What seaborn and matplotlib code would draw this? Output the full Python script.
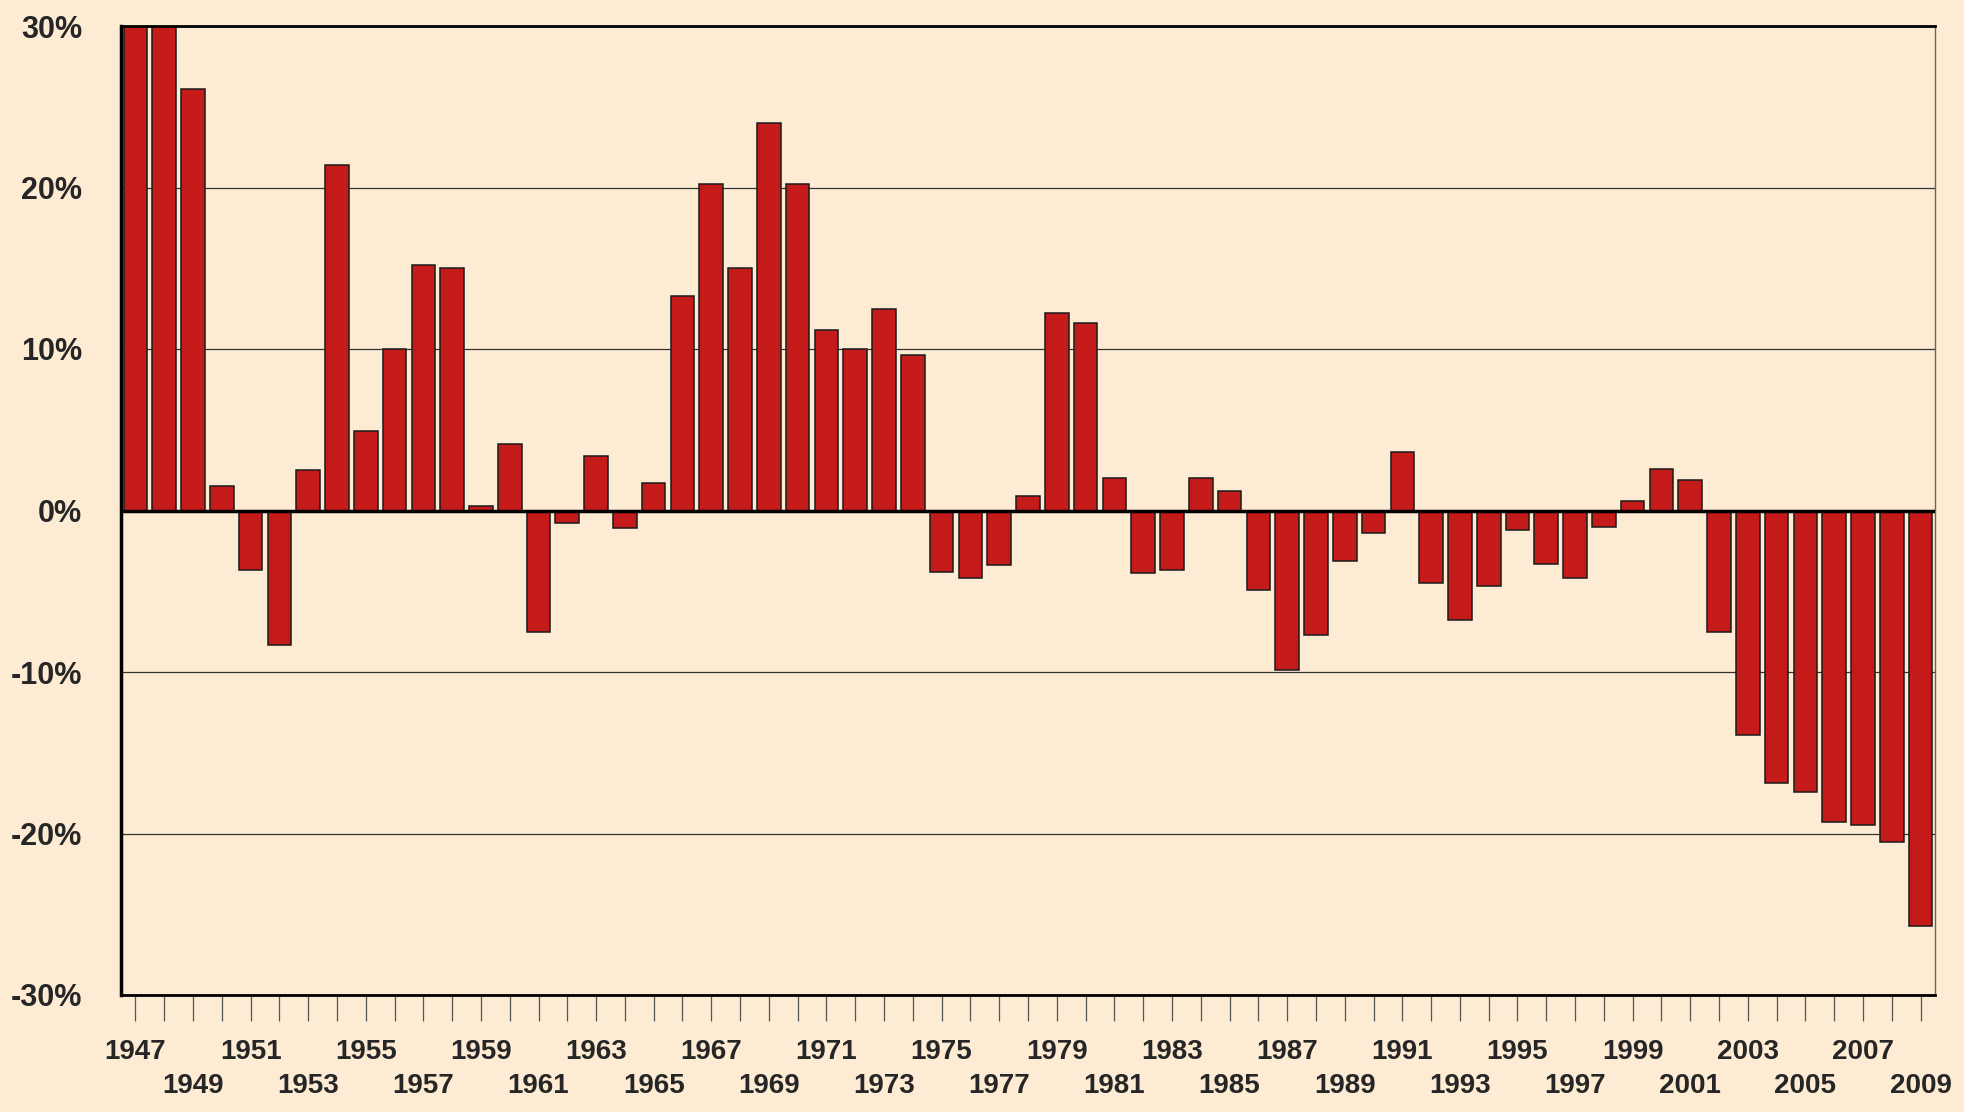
import matplotlib
matplotlib.use("Agg")
import matplotlib.pyplot as plt
import seaborn as sns

# annual change, 1947-2009 (%)
years = list(range(1947, 2010))
changes = [
    32.0, 31.0, 26.1, 1.5, -3.7, -8.3, 2.5, 21.4, 4.9, 10.0,
    15.2, 15.0, 0.3, 4.1, -7.5, -0.8, 3.4, -1.1, 1.7, 13.3,
    20.2, 15.0, 24.0, 20.2, 11.2, 10.0, 12.5, 9.6, -3.8, -4.2,
    -3.4, 0.9, 12.2, 11.6, 2.0, -3.9, -3.7, 2.0, 1.2, -4.9,
    -9.9, -7.7, -3.1, -1.4, 3.6, -4.5, -6.8, -4.7, -1.2, -3.3,
    -4.2, -1.0, 0.6, 2.6, 1.9, -7.5, -13.9, -16.9, -17.4, -19.3,
    -19.5, -20.5, -25.7,
]
y_ticks = [-30, -20, -10, 0, 10, 20, 30]

bg = "#FEEBD3"
bar_red = "#C41A1A"

sns.set_theme(style="white")
plt.rcParams["font.family"] = ["Liberation Sans", "DejaVu Sans"]
plt.rcParams["font.weight"] = "bold"

fig, ax = plt.subplots(figsize=(19.65, 11.12), dpi=100)
fig.patch.set_facecolor(bg)
ax.set_facecolor(bg)
fig.subplots_adjust(left=121 / 1965, right=1935 / 1965, top=1 - 26 / 1112, bottom=1 - 995 / 1112)

labels = [str(y) for y in years]
sns.barplot(x=labels, y=changes, color=bar_red, edgecolor="#1a1a1a", linewidth=1.1,
            width=0.82, saturation=1, ax=ax, zorder=2)

ax.set_xlim(-0.5, len(years) - 0.5)
ax.set_ylim(-30, 30)
ax.set_yticks(y_ticks)
ax.set_yticklabels([f"{v}%" for v in y_ticks], fontsize=22, fontweight="bold")
ax.tick_params(axis="y", length=0, pad=28)

# odd years only, staggered on two rows
tick_labels = []
for y in years:
    if (y - 1947) % 4 == 0:
        tick_labels.append(str(y))
    elif (y - 1947) % 4 == 2:
        tick_labels.append("\n" + str(y))
    else:
        tick_labels.append("")
ax.set_xticks(range(len(years)))
ax.set_xticklabels(tick_labels, fontsize=20, fontweight="bold")
for lab in ax.get_xticklabels():
    lab.set_linespacing(1.36)
ax.tick_params(axis="x", direction="out", length=19, width=0.9, color="#555555", pad=13, bottom=True)

ax.set_xlabel("")
ax.set_ylabel("")

ax.set_axisbelow(True)
ax.yaxis.grid(True, color="#333333", linewidth=0.9)
ax.xaxis.grid(False)
ax.axhline(0, color="black", linewidth=2.5, zorder=3)

ax.spines["left"].set_linewidth(2.5)
ax.spines["left"].set_color("black")
ax.spines["bottom"].set_linewidth(2)
ax.spines["bottom"].set_color("black")
ax.spines["top"].set_linewidth(2)
ax.spines["top"].set_color("black")
ax.spines["right"].set_linewidth(1)
ax.spines["right"].set_color("#666666")

plt.savefig("out.png", dpi=100, facecolor=bg)
plt.close()
